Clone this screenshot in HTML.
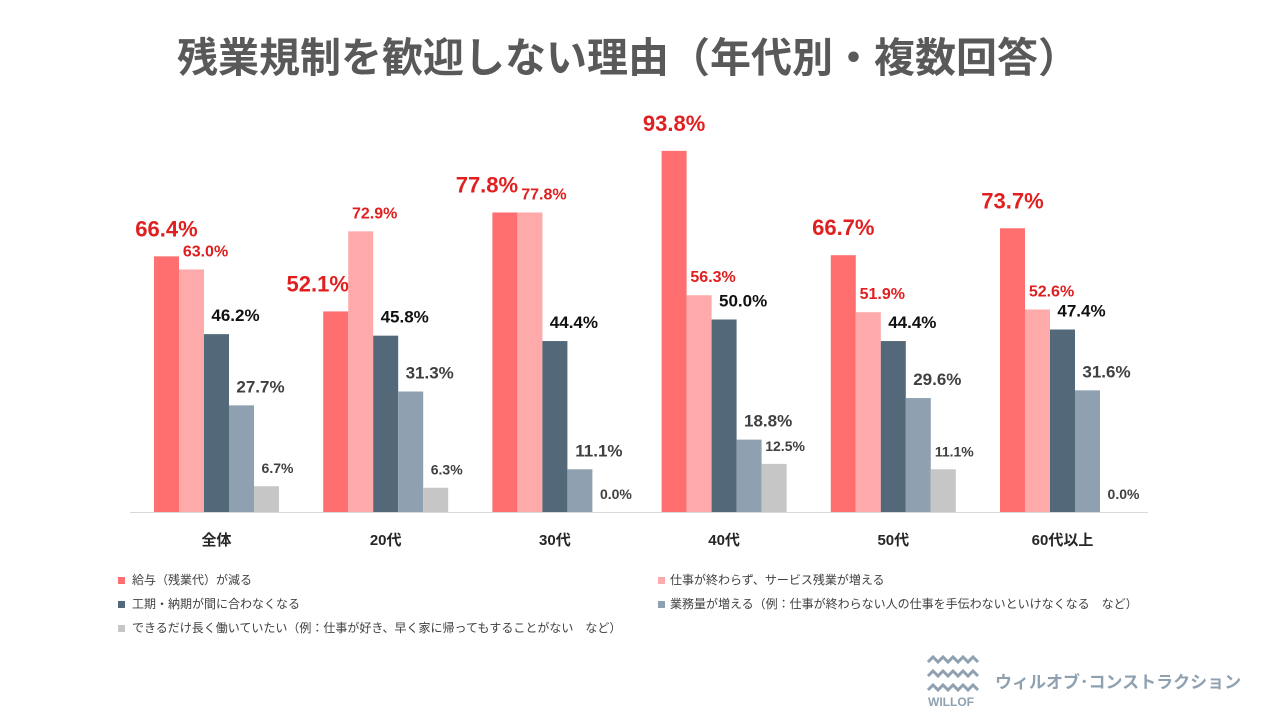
<!DOCTYPE html>
<html><head><meta charset="utf-8"><style>
body{margin:0;background:#fff;width:1280px;height:720px;overflow:hidden;font-family:"Liberation Sans","Noto Sans CJK JP",sans-serif}
</style></head><body>
<svg id="c" width="1280" height="720" xmlns="http://www.w3.org/2000/svg">
<text x="628" y="72" text-anchor="middle" font-size="41" font-weight="bold" fill="#595959" font-family="Liberation Sans,Noto Sans CJK JP,sans-serif">残業規制を歓迎しない理由（年代別・複数回答）</text>
<line x1="130" y1="512.5" x2="1148" y2="512.5" stroke="#d9d9d9" stroke-width="1"/>
<g id="bars"></g>
<g font-size="12" fill="#404040" font-family="Liberation Sans,Noto Sans CJK JP,sans-serif">
<rect x="118" y="577" width="7" height="7" fill="#ff6f6f"/><text x="132" y="584">給与（残業代）が減る</text>
<rect x="658" y="577" width="7" height="7" fill="#ffaaaa"/><text x="670" y="584">仕事が終わらず、サービス残業が増える</text>
<rect x="118" y="601" width="7" height="7" fill="#536878"/><text x="132" y="608">工期・納期が間に合わなくなる</text>
<rect x="658" y="601" width="7" height="7" fill="#8fa1b0"/><text x="670" y="608">業務量が増える（例：仕事が終わらない人の仕事を手伝わないといけなくなる　など）</text>
<rect x="118" y="625" width="7" height="7" fill="#c6c6c6"/><text x="132" y="632">できるだけ長く働いていたい（例：仕事が好き、早く家に帰ってもすることがない　など）</text>
</g>
<g>
<path d="M928 662 l5 -5 l5 5 l5 -5 l5 5 l5 -5 l5 5 l5 -5 l5 5 l5 -5 l5 5 M928 676 l5 -5 l5 5 l5 -5 l5 5 l5 -5 l5 5 l5 -5 l5 5 l5 -5 l5 5 M928 690 l5 -5 l5 5 l5 -5 l5 5 l5 -5 l5 5 l5 -5 l5 5 l5 -5 l5 5" fill="none" stroke="#8fa1b0" stroke-width="3"/>
<text x="928" y="706" font-size="12" font-weight="bold" fill="#8fa1b0">WILLOF</text>
<text x="995" y="688" font-size="17" font-weight="bold" fill="#8fa1b0" font-family="Liberation Sans,Noto Sans CJK JP,sans-serif">ウィルオブ･コンストラクション</text>
</g>
</svg>
<script>
const categories=["全体","20代","30代","40代","50代","60代以上"];
const s1=[66.4,52.1,77.8,93.8,66.7,73.7];
const s2=[63.0,72.9,77.8,56.3,51.9,52.6];
const s3=[46.2,45.8,44.4,50.0,44.4,47.4];
const s4=[27.7,31.3,11.1,18.8,29.6,31.6];
const s5=[6.7,6.3,0.0,12.5,11.1,0.0];
const series=[s1,s2,s3,s4,s5];
const colors=["#ff6f6f","#ffaaaa","#536878","#8fa1b0","#c6c6c6"];
const lblColor=["#e02020","#e02020","#111","#404040","#404040"];
const lblSize=[22,16,17,17,14];
const lblDx=[0,14,19,19,11];
const base=512, bw=25;
function y(v){return base-v*3.85;}
function gx(i){return 216.5+i*169.2;}
const g=document.getElementById('bars');
const NS="http://www.w3.org/2000/svg";
categories.forEach((c,i)=>{
  const t=document.createElementNS(NS,'text');
  
  
  t.setAttribute('x',gx(i));t.setAttribute('y',545);t.setAttribute('text-anchor','middle');
  t.setAttribute('font-size',15);t.setAttribute('font-weight','bold');t.setAttribute('fill','#262626');
  t.textContent=c;g.appendChild(t);
  series.forEach((s,k)=>{
    const x=gx(i)-62.5+k*bw;
    const r=document.createElementNS(NS,'rect');
    
    
    r.setAttribute('x',x);r.setAttribute('y',y(s[i]));r.setAttribute('width',bw);r.setAttribute('height',base-y(s[i]));
    r.setAttribute('fill',colors[k]);g.appendChild(r);
    let dx=lblDx[k];
    if(k==0 && s2[i]>s1[i]-3) dx=-18;
    const l=document.createElementNS(NS,'text');
    
    
    l.setAttribute('x',x+bw/2+dx);l.setAttribute('y',y(s[i])-(k==0?20:13));
    l.setAttribute('text-anchor','middle');l.setAttribute('font-size',lblSize[k]);l.setAttribute('font-weight','bold');
    l.setAttribute('fill',lblColor[k]);l.textContent=s[i].toFixed(1)+'%';g.appendChild(l);
  });
});
</script>
</body></html>
